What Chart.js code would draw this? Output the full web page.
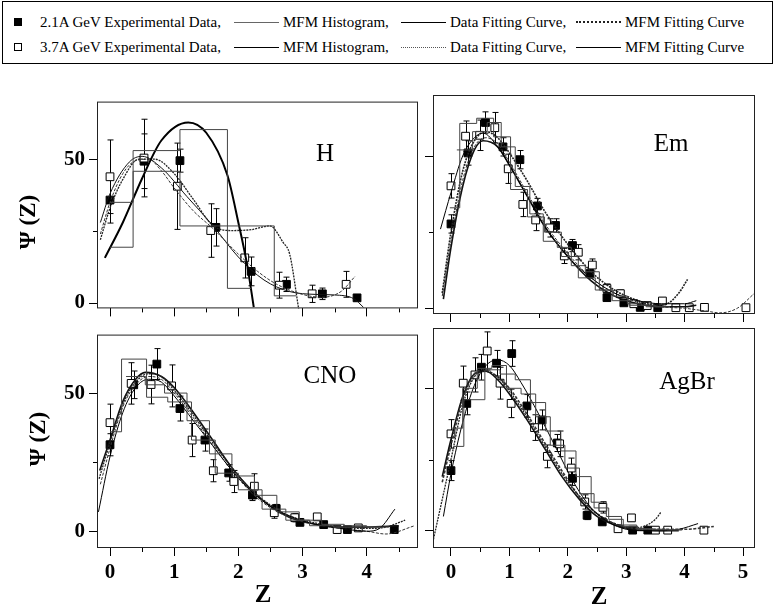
<!DOCTYPE html>
<html>
<head>
<meta charset="utf-8">
<script src="https://cdn.jsdelivr.net/npm/chart.js@4.4.0/dist/chart.umd.min.js"></script>
<style>
  body { margin: 0; width: 775px; height: 610px; background: #fff; position: relative; overflow: hidden; font-family: 'Liberation Serif', 'Times New Roman', serif; color: #000; }
  canvas { position: absolute; }
  .caixa { position: absolute; left: 2px; top: 1px; width: 771px; height: 63px; border: 1px solid #000; box-sizing: border-box; }
  .item { position: absolute; font-size: 15px; line-height: 18px; white-space: nowrap; }
  .amostra { position: absolute; height: 0; }
  .marca { position: absolute; width: 8px; height: 8px; box-sizing: border-box; border: 1px solid #000; }
  .rotulo { position: absolute; transform: translate(-50%, -50%); line-height: 1; white-space: nowrap; }
</style>
</head>
<body>
<div class="caixa"></div>

<div class="marca" style="left:14px; top:18px; background:#000;"></div>
<div class="item" style="left:40px; top:13px;">2.1A GeV Experimental Data,</div>
<div class="amostra" style="left:234px; top:22px; width:45px; border-top:1px solid #666;"></div>
<div class="item" style="left:283px; top:13px;">MFM Histogram,</div>
<div class="amostra" style="left:401px; top:22px; width:45px; border-top:1px solid #000;"></div>
<div class="item" style="left:450px; top:13px;">Data Fitting Curve,</div>
<div class="amostra" style="left:576px; top:21px; width:45px; border-top:2px dotted #222;"></div>
<div class="item" style="left:625px; top:13px;">MFM Fitting Curve</div>

<div class="marca" style="left:14px; top:43px; background:#fff;"></div>
<div class="item" style="left:40px; top:38px;">3.7A GeV Experimental Data,</div>
<div class="amostra" style="left:234px; top:47px; width:45px; border-top:1px solid #000;"></div>
<div class="item" style="left:283px; top:38px;">MFM Histogram,</div>
<div class="amostra" style="left:401px; top:47px; width:45px; border-top:1px dotted #555;"></div>
<div class="item" style="left:450px; top:38px;">Data Fitting Curve,</div>
<div class="amostra" style="left:576px; top:47px; width:45px; border-top:1px solid #000;"></div>
<div class="item" style="left:625px; top:38px;">MFM Fitting Curve</div>

<canvas id="cH" width="425" height="240" style="left:0px; top:85px;"></canvas>
<canvas id="cEm" width="355" height="240" style="left:420px; top:85px;"></canvas>
<canvas id="cCNO" width="425" height="292" style="left:0px; top:318px;"></canvas>
<canvas id="cAgBr" width="355" height="292" style="left:420px; top:318px;"></canvas>

<div class="rotulo" style="left:325px; top:152px; font-size:25px;">H</div>
<div class="rotulo" style="left:671px; top:142px; font-size:25px;">Em</div>
<div class="rotulo" style="left:330px; top:374px; font-size:25px;">CNO</div>
<div class="rotulo" style="left:687px; top:380px; font-size:25px;">AgBr</div>

<div class="rotulo" style="left:27px; top:222px; font-size:23px; font-weight:bold; transform:translate(-50%,-50%) rotate(-90deg);">Ψ (Z)</div>
<div class="rotulo" style="left:37px; top:439px; font-size:23px; font-weight:bold; transform:translate(-50%,-50%) rotate(-90deg);">Ψ (Z)</div>
<div class="rotulo" style="left:263px; top:593px; font-size:25px; font-weight:bold;">Z</div>
<div class="rotulo" style="left:599px; top:595px; font-size:25px; font-weight:bold;">Z</div>

<script>
// ticks
const xMaioresEsq = [0, 1, 2, 3, 4];
const xMenoresEsq = [0.5, 1.5, 2.5, 3.5, 4.5];
const xMaioresDir = [0, 1, 2, 3, 4, 5];
const xMenoresDir = [0.5, 1.5, 2.5, 3.5, 4.5];
const yMaiores = [0, 50];
const yMenores = [25];

// ---- H ----
const hZ21 = [0, 0.53, 1.09, 1.65, 2.2, 2.75, 3.31, 3.85];
const hPsi21 = [35.8, 49.3, 49.5, 26.3, 11, 6.5, 3.2, 1.8];
const hErr21 = [8, 9.5, 4, 6.5, 5, 2.5, 2, 1];
const hZ37 = [0, 0.53, 1.05, 1.57, 2.1, 2.64, 3.15, 3.68];
const hPsi37 = [43.9, 50.4, 40.6, 25.2, 15.7, 6.2, 3.2, 6.5];
const hErr37 = [12.8, 13.5, 15, 9.3, 7, 4.5, 3, 4.5];
const hBordasA = [0, 0.36, 1.09, 1.83, 2.2];
const hHistA = [19.4, 53, 60.3, 5.1];
const hBordasB = [0, 0.36, 1.09, 2.56, 2.9];
const hHistB = [35, 45.8, 26.8, 2.5];
const hCurvaZ1 = [-0.08, 0.2, 0.5, 0.8, 1.22, 1.5, 1.83, 2.0, 2.14, 2.24];
const hCurva1 = [15.7, 28, 43.3, 56.5, 62.8, 59.2, 44.4, 28, 12.9, -1.4];
const hCurvaZ2 = [-0.15, 0, 0.2, 0.45, 0.7, 1.0, 1.3, 1.6, 1.9, 2.2, 2.49, 2.7, 2.8, 2.94];
const hCurva2 = [22, 33, 43, 50, 50, 45, 36, 27, 25.2, 25.5, 26.8, 21, 17, -2];
const hCurvaZ3 = [-0.15, 0, 0.2, 0.4, 0.6, 0.8, 1.0, 1.3, 1.6, 2.0, 2.3, 2.6, 3.0, 3.3, 3.6, 3.82];
const hCurva3 = [24, 35, 45, 49.5, 50, 46, 40, 32, 26, 17, 11, 6.5, 3, 2, 4, 9.3];
const hCurvaZ4 = [-0.15, 0, 0.3, 0.5, 0.8, 1.2, 1.6, 2.0, 2.4, 2.8, 3.2, 3.5, 3.8, 3.95];
const hCurva4 = [28, 38, 49, 51, 47, 37, 27, 16, 8, 4, 3, 2.8, 1.5, -1.5];

// ---- Em ----
const emZ21 = [0, 0.29, 0.59, 0.89, 1.18, 1.48, 1.79, 2.08, 2.38, 2.67, 2.96, 3.24, 3.54];
const emPsi21 = [27.7, 51, 61, 53, 48.8, 33.6, 27.2, 20.6, 11.4, 3.5, 1.8, 0.3, 0.2];
const emErr21 = [3, 4, 3.5, 3, 3, 2.5, 2.2, 2, 1.5, 1, 0.8, 0.5, 0.5];
const emZ37 = [0, 0.25, 0.49, 0.75, 0.98, 1.23, 1.45, 1.69, 1.94, 2.18, 2.42, 2.67, 2.9, 3.13, 3.36, 3.62, 3.85, 4.08, 4.34, 5.05];
const emPsi37 = [40.2, 56.5, 56.8, 59.3, 45.8, 34.1, 29, 26.4, 17.2, 18.4, 14.2, 6.5, 4.8, 1.5, 0.9, 2.4, 0.2, 0.2, 0.3, 0.2];
const emErr37 = [4, 5, 5, 5, 4.8, 4, 3.5, 3, 2.5, 2.5, 2, 1.5, 1.2, 1, 0.8, 1, 0.6, 0.6, 0.6, 0.6];
const emBordasA = [-0.02, 0.15, 0.44, 0.73, 1.02, 1.31, 1.6, 1.89, 2.18, 2.47, 2.76, 3.05, 3.34, 3.63];
const emHistA = [33, 60.7, 62.4, 56.3, 39, 30, 25, 17, 10, 6, 2.5, 1, 0.5];
const emBordasB = [0.1, 0.37, 0.62, 0.86, 1.1, 1.35, 1.58, 1.82, 2.06, 2.3, 2.54, 2.78, 3.02, 3.26, 3.5, 3.75];
const emHistB = [52, 58, 61, 53, 40, 31, 22, 20, 14, 12, 6, 4, 1.5, 1, 0.5];
const emCurvaZ1 = [-0.18, 0, 0.2, 0.4, 0.55, 0.8, 1.0, 1.3, 1.6, 2.0, 2.4, 2.8, 3.2, 3.6, 4.0, 4.2];
const emCurva1 = [26, 38, 50, 56, 57.5, 53, 47, 37, 27, 17, 10, 5, 2.5, 1.5, 1.5, 2.5];
const emCurvaZ2 = [-0.15, 0, 0.2, 0.4, 0.6, 0.8, 1.0, 1.3, 1.6, 2.0, 2.4, 2.8, 3.2, 3.5, 3.7, 3.9, 4.05];
const emCurva2 = [5, 25, 45, 55, 58, 56, 51, 42, 32, 21, 12, 6, 2.5, 1, 1.5, 5, 9.5];
const emCurvaZ3 = [-0.15, 0, 0.2, 0.4, 0.6, 0.8, 1.0, 1.3, 1.6, 2.0, 2.4, 2.8, 3.2, 3.6, 4.0, 4.4, 4.6, 4.9, 5.2];
const emCurva3 = [4, 22, 42, 53, 56, 54, 48, 38, 28, 18, 10, 5, 2, 0.5, 0, -1, -1.5, 0, 5];
const emCurvaZ4 = [-0.13, 0, 0.2, 0.4, 0.55, 0.8, 1.0, 1.3, 1.6, 2.0, 2.4, 2.8, 3.2, 3.6, 4.0, 4.2];
const emCurva4 = [3, 20, 40, 52, 55, 53, 47, 37, 27, 17, 9, 4, 1.5, 0.5, 0.5, 1];

// ---- CNO ----
const cnoZ21 = [0, 0.37, 0.73, 1.09, 1.48, 1.85, 2.22, 2.59, 2.96, 3.33, 3.7, 4.43];
const cnoPsi21 = [31.3, 53, 60.5, 44.4, 33, 21.1, 13.1, 8.2, 3.2, 2.4, 0.6, 0.6];
const cnoErr21 = [4, 5, 5.6, 4.5, 4, 3, 2, 1.5, 1, 0.8, 0.5, 0.5];
const cnoZ37 = [0, 0.33, 0.64, 0.96, 1.28, 1.61, 1.93, 2.25, 2.56, 2.88, 3.23, 3.54, 3.87];
const cnoPsi37 = [39.3, 53.5, 53.1, 52.6, 33, 21.9, 18, 16.3, 6.7, 4.9, 5.2, 0.6, 1.2];
const cnoErr37 = [6.7, 7.5, 7, 7.6, 6, 4, 4, 4.5, 2, 1.5, 1.2, 0.8, 0.6];
const cnoBordasA = [0, 0.18, 0.57, 0.9, 1.27, 1.64, 2.0, 2.37, 2.74, 3.11, 3.48, 3.85, 4.22];
const cnoHistA = [36, 62.3, 48.5, 46.8, 33, 21, 15, 8, 4, 2, 1.5, 1.5];
const cnoBordasB = [0.25, 0.55, 0.85, 1.2, 1.55, 1.9, 2.25, 2.6, 2.95, 3.3, 3.65, 4.0, 4.35];
const cnoHistB = [56, 53, 50, 40, 28, 20, 13, 7, 4, 2.5, 2, 1.5];
const cnoCurvaZ1 = [-0.18, 0, 0.2, 0.4, 0.6, 0.8, 1.0, 1.3, 1.6, 1.9, 2.2, 2.5, 2.8, 3.2, 3.6, 4.0, 4.2, 4.44];
const cnoCurva1 = [7, 27, 43, 52, 55, 54, 49, 40, 31, 22, 14.5, 9, 5.5, 2.5, 1, 0, 1, 8];
const cnoCurvaZ2 = [-0.17, 0, 0.2, 0.4, 0.6, 0.8, 1.0, 1.3, 1.6, 1.9, 2.2, 2.5, 2.8, 3.2, 3.6, 4.0, 4.3, 4.6];
const cnoCurva2 = [19, 32, 46, 54, 57, 56, 51, 42, 32, 23, 15, 9.5, 5.5, 3, 1.5, 1, 1.5, 4];
const cnoCurvaZ3 = [-0.15, 0, 0.2, 0.4, 0.6, 0.8, 1.0, 1.3, 1.6, 1.9, 2.2, 2.5, 2.8, 3.2, 3.6, 4.0, 4.3, 4.75];
const cnoCurva3 = [17, 30, 45, 53, 56, 55, 50, 41, 31, 22, 14, 8.5, 5, 2.5, 1, 0, -1, 2];
const cnoCurvaZ4 = [-0.16, 0, 0.2, 0.4, 0.55, 0.8, 1.0, 1.3, 1.6, 1.9, 2.2, 2.5, 2.8, 3.2, 3.6, 4.0, 4.5];
const cnoCurva4 = [22, 33, 47, 55, 57.5, 56, 52, 43, 33, 23, 15, 9, 5, 2.5, 1.5, 1.5, 2];

// ---- AgBr ----
const agZ21 = [0, 0.27, 0.52, 0.78, 1.04, 1.30, 1.56, 1.82, 2.08, 2.33, 2.59, 3.11, 3.37];
const agPsi21 = [21.1, 44.7, 57.4, 58.8, 62.2, 43.8, 38.9, 30.8, 18.4, 5.4, 3.1, 0.2, 0.2];
const agErr21 = [3.5, 4, 4.5, 4.5, 4.5, 4, 3.5, 3, 2.5, 1.5, 1, 0.5, 0.5];
const agZ37 = [0, 0.21, 0.41, 0.62, 0.84, 1.03, 1.43, 1.65, 1.86, 2.06, 2.29, 2.6, 2.86, 3.09, 3.5, 3.71, 4.33];
const agPsi37 = [34, 51.8, 54.7, 63.1, 51.8, 44.7, 36.2, 26.1, 30.5, 22, 10.1, 8.2, 0.7, 4.5, 0.2, 0.2, 0.2];
const agErr37 = [5, 6, 6, 6.7, 5.6, 5, 4.5, 4, 4.5, 3.5, 2.5, 2, 1, 1.2, 0.6, 0.6, 0.6];
const agBordasA = [0.05, 0.22, 0.58, 0.84, 1.1, 1.36, 1.62, 1.88, 2.14, 2.4, 2.66, 2.92, 3.18, 3.44, 3.7, 3.96];
const agHistA = [29.6, 46, 56.5, 55, 53, 45, 35, 28, 19, 10, 5, 2, 0.5, 0.3, 0.3];
const agBordasB = [0.0, 0.2, 0.45, 0.7, 0.95, 1.2, 1.45, 1.7, 1.95, 2.2, 2.45, 2.7, 2.95, 3.2, 3.45, 3.7, 3.95];
const agHistB = [36, 50, 57, 58, 50, 48, 40, 30, 22, 13, 8, 4, 1.5, 0.8, 0.5, 0.3];
const agCurvaZ1 = [-0.13, 0, 0.2, 0.4, 0.6, 0.8, 1.0, 1.2, 1.5, 1.8, 2.1, 2.4, 2.7, 3.0, 3.3, 3.6, 3.9, 4.23];
const agCurva1 = [5, 20, 38, 51, 58, 60, 58, 52, 41, 29, 17, 8, 3, 0.5, 0, 0, 0.5, 2.5];
const agCurvaZ2 = [-0.3, 0, 0.2, 0.4, 0.55, 0.8, 1.0, 1.3, 1.6, 1.9, 2.2, 2.5, 2.8, 3.1, 3.3, 3.5, 3.59];
const agCurva2 = [-3, 25, 44, 54, 56, 54, 49, 40, 30, 20, 12, 6, 2.5, 1, 1.5, 4, 6.4];
const agCurvaZ3 = [-0.15, 0, 0.2, 0.4, 0.55, 0.8, 1.0, 1.3, 1.6, 1.9, 2.2, 2.5, 2.8, 3.1, 3.5, 4.0, 4.5];
const agCurva3 = [17, 30, 46, 55, 56.5, 54, 50, 41, 31, 21, 12, 6, 2.5, 1, 0.5, 0.5, 1.5];
const agCurvaZ4 = [-0.15, 0, 0.2, 0.4, 0.6, 0.8, 1.0, 1.3, 1.6, 1.9, 2.2, 2.5, 2.8, 3.1, 3.5, 3.9];
const agCurva4 = [19, 32, 47, 55, 56, 53, 48, 39, 29, 19, 11, 5, 2, 0.5, 0, 0];

Chart.defaults.font.family = "'Liberation Serif', 'Times New Roman', serif";
Chart.defaults.color = '#000';

const fonteTick = { family: "'Liberation Serif', 'Times New Roman', serif", size: 21, weight: 'bold' };

const estilosCurva = [
    { borderColor: '#000', borderWidth: 1.6, borderDash: [] },
    { borderColor: '#222', borderWidth: 1.3, borderDash: [2, 1] },
    { borderColor: '#333', borderWidth: 1, borderDash: [3, 1.5] },
    { borderColor: '#111', borderWidth: 1, borderDash: [] }
];

function pares(zs, vs) {
    return zs.map((z, i) => ({ x: z, y: vs[i] }));
}

// cada borda leva a altura do bin que comeca nela
function degraus(bordas, alturas) {
    return bordas.map((z, i) => ({ x: z, y: alturas[Math.min(i, alturas.length - 1)] }));
}

// moldura da caixa + ticks menores
const moldura = {
    id: 'moldura',
    afterDraw(chart, args, opts) {
        const { ctx, chartArea: a, scales: { x, y } } = chart;
        ctx.save();
        ctx.strokeStyle = '#222';
        ctx.lineWidth = 1;
        ctx.strokeRect(a.left + 0.5, a.top + 0.5, a.right - a.left - 1, a.bottom - a.top - 1);
        ctx.strokeStyle = '#000';
        ctx.beginPath();
        opts.xMenores.forEach(v => {
            const px = Math.round(x.getPixelForValue(v)) + 0.5;
            ctx.moveTo(px, a.bottom);
            ctx.lineTo(px, a.bottom + 4);
        });
        opts.yMenores.forEach(v => {
            const py = Math.round(y.getPixelForValue(v)) + 0.5;
            ctx.moveTo(a.left, py);
            ctx.lineTo(a.left - 4, py);
        });
        ctx.stroke();
        ctx.restore();
    }
};

// barras de erro desenhadas logo antes de cada serie de pontos
const barrasErro = {
    id: 'barrasErro',
    beforeDatasetDraw(chart, args) {
        const ds = chart.data.datasets[args.index];
        if (!ds.erros) return;
        const { ctx, chartArea: a, scales: { y } } = chart;
        ctx.save();
        ctx.beginPath();
        ctx.rect(a.left, a.top, a.right - a.left, a.bottom - a.top);
        ctx.clip();
        ctx.strokeStyle = '#000';
        ctx.lineWidth = 1;
        ctx.beginPath();
        args.meta.data.forEach((pt, i) => {
            const v = ds.data[i].y;
            const e = ds.erros[i];
            const cx = Math.round(pt.x) + 0.5;
            const topo = y.getPixelForValue(v + e);
            const base = y.getPixelForValue(v - e);
            ctx.moveTo(cx, topo); ctx.lineTo(cx, base);
            ctx.moveTo(cx - 3, topo); ctx.lineTo(cx + 3, topo);
            ctx.moveTo(cx - 3, base); ctx.lineTo(cx + 3, base);
        });
        ctx.stroke();
        ctx.restore();
    }
};

function montarPainel(p) {
    const datasets = [];
    p.hist.forEach(h => datasets.push({
        data: degraus(h[0], h[1]), showLine: true, stepped: 'before',
        borderColor: '#444', borderWidth: 1, pointRadius: 0, fill: false
    }));
    p.curvas.forEach((c, i) => datasets.push(Object.assign({
        data: pares(c[0], c[1]), showLine: true, cubicInterpolationMode: 'monotone',
        pointRadius: 0, fill: false
    }, estilosCurva[i], c[2] || {})));
    datasets.push({
        data: pares(p.z37, p.psi37), erros: p.err37, pointStyle: 'rect', pointRadius: 5.5,
        backgroundColor: '#fff', borderColor: '#000', borderWidth: 1
    });
    datasets.push({
        data: pares(p.z21, p.psi21), erros: p.err21, pointStyle: 'rect', pointRadius: 5.5,
        backgroundColor: '#000', borderColor: '#000', borderWidth: 1
    });

    const canvas = document.getElementById(p.id);
    new Chart(canvas, {
        type: 'scatter',
        data: { datasets },
        plugins: [moldura, barrasErro],
        options: {
            responsive: false,
            animation: false,
            layout: { padding: { top: p.padTopo, right: p.padDir, left: 0, bottom: 0 } },
            plugins: {
                legend: { display: false },
                tooltip: { enabled: false },
                moldura: { xMenores: p.xMenores, yMenores: yMenores }
            },
            scales: {
                x: {
                    type: 'linear', min: p.xMin, max: p.xMax,
                    afterBuildTicks: s => { s.ticks = p.xMaiores.map(v => ({ value: v })); },
                    afterFit: s => { s.height = p.altX; },
                    grid: { drawOnChartArea: false, tickLength: 8, tickColor: '#000', tickWidth: 1 },
                    border: { display: false },
                    ticks: { display: p.rotX, font: fonteTick, color: '#000', padding: 4, maxRotation: 0, autoSkip: false }
                },
                y: {
                    type: 'linear', min: p.yMin, max: p.yMax,
                    afterBuildTicks: s => { s.ticks = yMaiores.map(v => ({ value: v })); },
                    afterFit: s => { s.width = p.largY; },
                    grid: { drawOnChartArea: false, tickLength: 8, tickColor: '#000', tickWidth: 1 },
                    border: { display: false },
                    ticks: { display: p.rotY, font: fonteTick, color: '#000', padding: 4, autoSkip: false }
                }
            }
        }
    });
}

const fino = { borderWidth: 1 };
const grosso = { borderWidth: 1.6 };

document.addEventListener('DOMContentLoaded', () => {
    montarPainel({
        id: 'cH', padTopo: 10, padDir: 7, largY: 97, altX: 11, rotX: false, rotY: true,
        xMin: -0.2026, xMax: 4.80, yMin: -1.87, yMax: 70.03,
        xMaiores: xMaioresEsq, xMenores: xMenoresEsq,
        z21: hZ21, psi21: hPsi21, err21: hErr21, z37: hZ37, psi37: hPsi37, err37: hErr37,
        hist: [[hBordasA, hHistA], [hBordasB, hHistB]],
        curvas: [[hCurvaZ1, hCurva1, { borderWidth: 2 }], [hCurvaZ2, hCurva2], [hCurvaZ3, hCurva3], [hCurvaZ4, hCurva4]]
    });
    montarPainel({
        id: 'cEm', padTopo: 10, padDir: 20, largY: 13, altX: 11, rotX: false, rotY: false,
        xMin: -0.308, xMax: 5.205, yMin: -1.87, yMax: 70.03,
        xMaiores: xMaioresDir, xMenores: xMenoresDir,
        z21: emZ21, psi21: emPsi21, err21: emErr21, z37: emZ37, psi37: emPsi37, err37: emErr37,
        hist: [[emBordasA, emHistA], [emBordasB, emHistB]],
        curvas: [[emCurvaZ1, emCurva1, fino], [emCurvaZ2, emCurva2, grosso], [emCurvaZ3, emCurva3], [emCurvaZ4, emCurva4, grosso]]
    });
    montarPainel({
        id: 'cCNO', padTopo: 10, padDir: 7, largY: 97, altX: 62, rotX: true, rotY: true,
        xMin: -0.2026, xMax: 4.80, yMin: -6.07, yMax: 71.17,
        xMaiores: xMaioresEsq, xMenores: xMenoresEsq,
        z21: cnoZ21, psi21: cnoPsi21, err21: cnoErr21, z37: cnoZ37, psi37: cnoPsi37, err37: cnoErr37,
        hist: [[cnoBordasA, cnoHistA], [cnoBordasB, cnoHistB]],
        curvas: [[cnoCurvaZ1, cnoCurva1, fino], [cnoCurvaZ2, cnoCurva2], [cnoCurvaZ3, cnoCurva3], [cnoCurvaZ4, cnoCurva4, grosso]]
    });
    montarPainel({
        id: 'cAgBr', padTopo: 10, padDir: 20, largY: 13, altX: 62, rotX: true, rotY: false,
        xMin: -0.308, xMax: 5.205, yMin: -6.07, yMax: 71.17,
        xMaiores: xMaioresDir, xMenores: xMenoresDir,
        z21: agZ21, psi21: agPsi21, err21: agErr21, z37: agZ37, psi37: agPsi37, err37: agErr37,
        hist: [[agBordasA, agHistA], [agBordasB, agHistB]],
        curvas: [[agCurvaZ1, agCurva1, fino], [agCurvaZ2, agCurva2], [agCurvaZ3, agCurva3, grosso], [agCurvaZ4, agCurva4, grosso]]
    });
});
</script>
</body>
</html>
